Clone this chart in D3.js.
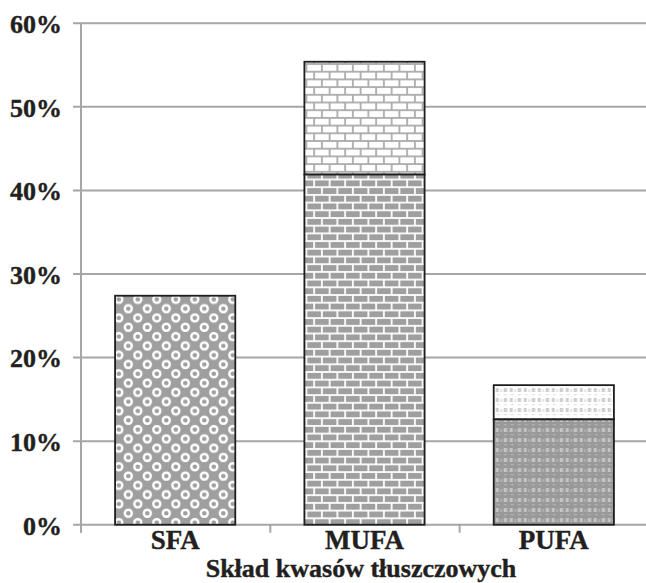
<!DOCTYPE html>
<html>
<head>
<meta charset="utf-8">
<script src="https://cdn.jsdelivr.net/npm/d3@7"></script>
<style>
  html, body { margin: 0; padding: 0; background: #fff; }
  svg { display: block; }
  text { font-family: "Liberation Serif", "Times New Roman", serif; font-weight: bold; fill: #231f20; stroke: #231f20; stroke-width: 0.4px; }
</style>
</head>
<body>
<svg id="chart" width="646" height="583"></svg>
<script>
// Fatty acid composition: stacked shares per group (percent)
const categories = ["SFA", "MUFA", "PUFA"];
const lowerValues = [27.4, 41.9, 12.6];   // main component
const upperValues = [0, 13.5, 4.1];       // additional component stacked on top
const yTicks = [0, 10, 20, 30, 40, 50, 60];
const xTitle = "Skład kwasów tłuszczowych";

const svg = d3.select("#chart");
const W = 646, H = 583;
const plotLeft = 81, plotTop = 23.3, plotBottom = 524.7;

const x = d3.scaleBand().domain(categories).range([plotLeft, plotLeft + 3 * 189]).paddingInner(0.365).paddingOuter(0.18);
const y = d3.scaleLinear().domain([0, 60]).range([plotBottom, plotTop]);

// ---- fill patterns ----
const defs = svg.append("defs");
const grey = "#9f9f9f";

// SFA: white rings on grey
const pRing = defs.append("pattern").attr("id", "rings")
  .attr("patternUnits", "userSpaceOnUse").attr("width", 19).attr("height", 18.6)
  .attr("x", x("SFA") - 1).attr("y", y(lowerValues[0]) - 1);
pRing.append("rect").attr("width", 19).attr("height", 18.6).attr("fill", grey);
[[4.75, 4.65], [14.25, 13.95]].forEach(([cx, cy]) =>
  pRing.append("circle").attr("cx", cx).attr("cy", cy).attr("r", 3.5)
    .attr("fill", "none").attr("stroke", "#fff").attr("stroke-width", 2.4));

// brick patterns
function brick(id, bg, line, lw) {
  const w = 15.5, h = 15.4;
  const p = defs.append("pattern").attr("id", id)
    .attr("patternUnits", "userSpaceOnUse").attr("width", w).attr("height", h)
    .attr("x", x("MUFA") + 2).attr("y", 64);
  p.append("rect").attr("width", w).attr("height", h).attr("fill", bg);
  const g = p.append("g").attr("stroke", line).attr("stroke-width", lw);
  g.append("line").attr("x1", 0).attr("x2", w).attr("y1", 0).attr("y2", 0);
  g.append("line").attr("x1", 0).attr("x2", w).attr("y1", h / 2).attr("y2", h / 2);
  g.append("line").attr("x1", 0).attr("x2", w).attr("y1", h).attr("y2", h);
  g.append("line").attr("x1", 0).attr("x2", 0).attr("y1", 0).attr("y2", h / 2);
  g.append("line").attr("x1", w).attr("x2", w).attr("y1", 0).attr("y2", h / 2);
  g.append("line").attr("x1", w / 2).attr("x2", w / 2).attr("y1", h / 2).attr("y2", h);
}
brick("brickGrey", grey, "#fff", 1.8);
brick("brickWhite", "#fff", "#ababab", 1.8);

// PUFA: small speckled dashes
function speckle(id, bg, c1, c2) {
  const w = 14, h = 10;
  const p = defs.append("pattern").attr("id", id)
    .attr("patternUnits", "userSpaceOnUse").attr("width", w).attr("height", h)
    .attr("x", x("PUFA") + 1).attr("y", 386);
  p.append("rect").attr("width", w).attr("height", h).attr("fill", bg);
  p.append("rect").attr("x", 1).attr("y", 2).attr("width", 3).attr("height", 4).attr("fill", c1);
  p.append("rect").attr("x", 5.5).attr("y", 3).attr("width", 2).attr("height", 3).attr("fill", c2);
  p.append("rect").attr("x", 9).attr("y", 2).attr("width", 3.5).attr("height", 4).attr("fill", c1);
  p.append("rect").attr("x", 2).attr("y", 8).attr("width", 3).attr("height", 1.2).attr("fill", c2);
  p.append("rect").attr("x", 9).attr("y", 8).attr("width", 3).attr("height", 1.2).attr("fill", c2);
}
speckle("speckGrey", "#999999", "#c4c4c4", "#b2b2b2");
speckle("speckWhite", "#fff", "#cfcfcf", "#e2e2e2");

// ---- gridlines and axes ----
const gridColor = "#a6a6a6";
svg.append("g").selectAll("line").data(yTicks).join("line")
  .attr("x1", plotLeft - 8).attr("x2", W)
  .attr("y1", d => y(d)).attr("y2", d => y(d))
  .attr("stroke", gridColor).attr("stroke-width", 2);

svg.append("line").attr("x1", plotLeft).attr("x2", plotLeft)
  .attr("y1", plotTop).attr("y2", plotBottom + 8)
  .attr("stroke", gridColor).attr("stroke-width", 2);

// category boundary ticks
const step = x.step();
const bounds = d3.range(4).map(i => plotLeft + i * step);
svg.append("g").selectAll("line").data(bounds).join("line")
  .attr("x1", d => d).attr("x2", d => d)
  .attr("y1", plotBottom).attr("y2", plotBottom + 8)
  .attr("stroke", gridColor).attr("stroke-width", 2);

// y tick labels
const yAxis = d3.axisLeft(y).tickValues(yTicks).tickFormat(d => d + "%").tickSize(0).tickPadding(19);
const ya = svg.append("g").attr("transform", `translate(${plotLeft},0)`).call(yAxis);
ya.select(".domain").remove();
ya.selectAll("text").attr("font-size", 26).attr("fill", "#231f20").attr("dy", "0.36em")
  .style("font-family", '"Liberation Serif", serif').style("font-weight", "bold");

// ---- bars ----
const bars = svg.append("g");
const fills = {
  SFA: ["url(#rings)", null],
  MUFA: ["url(#brickGrey)", "url(#brickWhite)"],
  PUFA: ["url(#speckGrey)", "url(#speckWhite)"]
};
categories.forEach((c, i) => {
  const bx = x(c), bw = x.bandwidth();
  const lo = lowerValues[i], up = upperValues[i];
  if (up > 0) {
    bars.append("rect").attr("x", bx).attr("width", bw)
      .attr("y", y(lo + up)).attr("height", y(lo) - y(lo + up))
      .attr("fill", fills[c][1]).attr("stroke", "#1e1e1e").attr("stroke-width", 1.8);
  }
  bars.append("rect").attr("x", bx).attr("width", bw)
    .attr("y", y(lo)).attr("height", y(0) - y(lo))
    .attr("fill", fills[c][0]).attr("stroke", "#1e1e1e").attr("stroke-width", 1.8);
});

// ---- x labels ----
const xAxis = d3.axisBottom(x).tickSize(0).tickPadding(0);
const xa = svg.append("g").attr("transform", `translate(0,${plotBottom})`).call(xAxis);
xa.select(".domain").remove();
xa.selectAll("text").attr("font-size", 27).attr("fill", "#231f20").attr("dy", null).attr("y", 24)
  .style("font-family", '"Liberation Serif", serif').style("font-weight", "bold");

svg.append("text").attr("x", 361).attr("y", 577)
  .attr("text-anchor", "middle").attr("font-size", 26).text(xTitle);
</script>
</body>
</html>
